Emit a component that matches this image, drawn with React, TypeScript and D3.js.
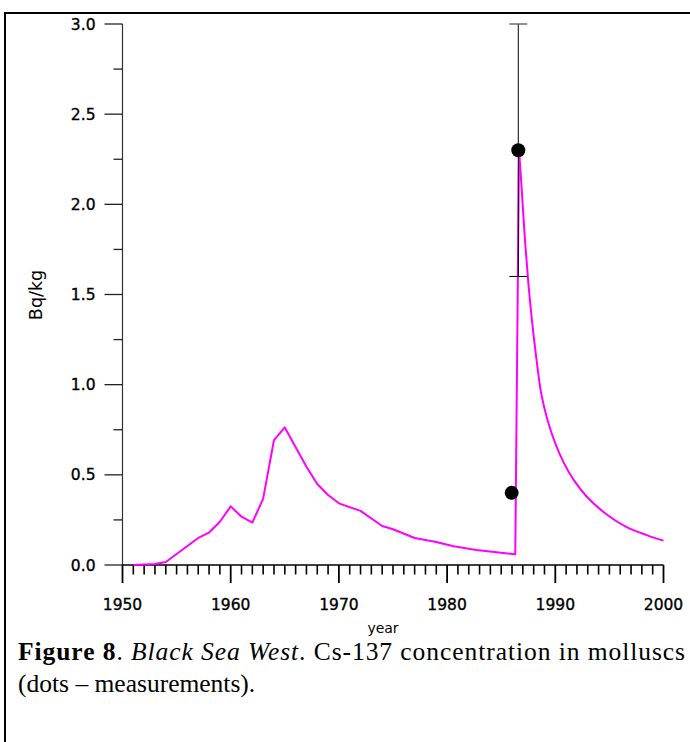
import React from "react";
import * as d3 from "d3";

// Model curve before and including the Chernobyl jump (linear segments)
const modelYearsA = [1951, 1953, 1954, 1957, 1958, 1959, 1960, 1961, 1962, 1963, 1964, 1965, 1967, 1968, 1969, 1970, 1972, 1974, 1975, 1977, 1979, 1980.6, 1982.7, 1986.3, 1986.65];
const modelValuesA = [0.0, 0.005, 0.017, 0.15, 0.18, 0.24, 0.325, 0.268, 0.235, 0.368, 0.693, 0.763, 0.545, 0.449, 0.388, 0.342, 0.30, 0.216, 0.198, 0.15, 0.128, 0.104, 0.083, 0.059, 2.3];
// Model decay after 1986 (smooth)
const modelYearsB = [1986.65, 1986.9, 1987.2, 1987.5, 1987.8, 1988.2, 1988.7, 1989.3, 1990.0, 1990.8, 1991.7, 1992.9, 1994.75, 1996.6, 1998.45, 2000];
const modelValuesB = [2.3, 2.08, 1.8, 1.57, 1.38, 1.17, 0.95, 0.8, 0.675, 0.565, 0.472, 0.38, 0.28, 0.21, 0.166, 0.135];
// Measurements
const measYears = [1985.97, 1986.58];
const measValues = [0.4, 2.3];
const measLow = [null, 1.6];
const measHigh = [null, 3.0];

const yMajorTicks = [0, 0.5, 1.0, 1.5, 2.0, 2.5, 3.0];
const xMajorTicks = [1950, 1960, 1970, 1980, 1990, 2000];

const captionBold = "Figure 8";
const captionItalic = "Black Sea West";
const captionRest = ". Cs-137 concentration in molluscs";
const captionLine2 = "(dots \u2013 measurements).";

export default function App() {
  const x = d3.scaleLinear().domain([1950, 2000]).range([122.5, 663.5]);
  const y = d3.scaleLinear().domain([0, 3]).range([565, 24]);

  const lineA = d3.line<number>().x((_, i) => x(modelYearsA[i])).y((v) => y(v)).curve(d3.curveLinear);
  const lineB = d3.line<number>().x((_, i) => x(modelYearsB[i])).y((v) => y(v)).curve(d3.curveCatmullRom.alpha(0.5));

  const yMinor = d3.range(0, 3.001, 0.25).filter((v) => !yMajorTicks.some((m) => Math.abs(m - v) < 1e-6));
  const xMinor = d3.range(1950, 2001, 1).filter((v) => v % 10 !== 0);

  const tickFont = "DejaVu Sans, Verdana, sans-serif";
  const serif = "Liberation Serif, Times New Roman, serif";

  return (
    <svg width={690} height={742} style={{ position: "absolute", left: 0, top: 0, background: "#fff" }}>
      {/* frame */}
      <line x1={5} y1={13} x2={690} y2={13} stroke="#000" strokeWidth={2} />
      <line x1={5} y1={12} x2={5} y2={742} stroke="#000" strokeWidth={2} />

      {/* y axis */}
      <line x1={x(1950)} y1={y(0)} x2={x(1950)} y2={y(3)} stroke="#333" strokeWidth={1.2} />
      {yMajorTicks.map((t) => (
        <g key={"ym" + t}>
          <line x1={x(1950) - 18} x2={x(1950)} y1={y(t)} y2={y(t)} stroke="#222" strokeWidth={1.3} />
          <text x={x(1950) - 27} y={y(t)} dy="0.36em" textAnchor="end" fontFamily={tickFont} fontSize={15.5} fill="#000" stroke="#000" strokeWidth={0.35}>
            {t.toFixed(1)}
          </text>
        </g>
      ))}
      {yMinor.map((t) => (
        <line key={"yn" + t} x1={x(1950) - 9} x2={x(1950)} y1={y(t)} y2={y(t)} stroke="#222" strokeWidth={1.3} />
      ))}

      {/* x axis */}
      <line x1={x(1950)} y1={y(0)} x2={x(2000)} y2={y(0)} stroke="#000" strokeWidth={1.4} />
      {xMajorTicks.map((t) => (
        <g key={"xm" + t}>
          <line x1={x(t)} x2={x(t)} y1={y(0)} y2={y(0) + 18} stroke="#000" strokeWidth={1.8} />
          <text x={x(t)} y={610} textAnchor="middle" fontFamily={tickFont} fontSize={15.5} fill="#000" stroke="#000" strokeWidth={0.35}>
            {t}
          </text>
        </g>
      ))}
      {xMinor.map((t) => (
        <line key={"xn" + t} x1={x(t)} x2={x(t)} y1={y(0)} y2={y(0) + 9.5} stroke="#000" strokeWidth={1.6} />
      ))}

      {/* axis titles */}
      <text transform={`translate(42,${295}) rotate(-90)`} textAnchor="middle" fontFamily={tickFont} fontSize={17.5} fill="#000">
        Bq/kg
      </text>
      <text x={383} y={633} textAnchor="middle" fontFamily={tickFont} fontSize={14} fill="#000">
        year
      </text>

      {/* model curve */}
      <path d={lineA(modelValuesA) || ""} fill="none" stroke="#ff00ff" strokeWidth={2} strokeLinejoin="round" />
      <path d={lineB(modelValuesB) || ""} fill="none" stroke="#ff00ff" strokeWidth={2} strokeLinejoin="round" />

      {/* error bars */}
      {measYears.map((yr, i) =>
        measLow[i] != null && measHigh[i] != null ? (
          <g key={"eb" + i}>
            <line x1={x(yr)} x2={x(yr)} y1={y(measLow[i] as number)} y2={y(measHigh[i] as number)} stroke="#000" strokeWidth={1} />
            <line x1={x(yr) - 9} x2={x(yr) + 9} y1={y(measHigh[i] as number)} y2={y(measHigh[i] as number)} stroke="#555" strokeWidth={1.3} />
            <line x1={x(yr) - 9} x2={x(yr) + 9} y1={y(measLow[i] as number)} y2={y(measLow[i] as number)} stroke="#000" strokeWidth={1} />
          </g>
        ) : null
      )}
      {/* measurement dots */}
      {measYears.map((yr, i) => (
        <circle key={"pt" + i} cx={x(yr)} cy={y(measValues[i])} r={7} fill="#000" />
      ))}

      {/* caption */}
      <text x={18} y={660} fontFamily={serif} fontSize={25.5} fill="#000" textLength={667} lengthAdjust="spacing">
        <tspan fontWeight="bold">{captionBold}</tspan>
        <tspan>. </tspan>
        <tspan fontStyle="italic">{captionItalic}</tspan>
        <tspan>{captionRest}</tspan>
      </text>
      <text x={18} y={692} fontFamily={serif} fontSize={25.5} fill="#000">
        {captionLine2}
      </text>
    </svg>
  );
}
